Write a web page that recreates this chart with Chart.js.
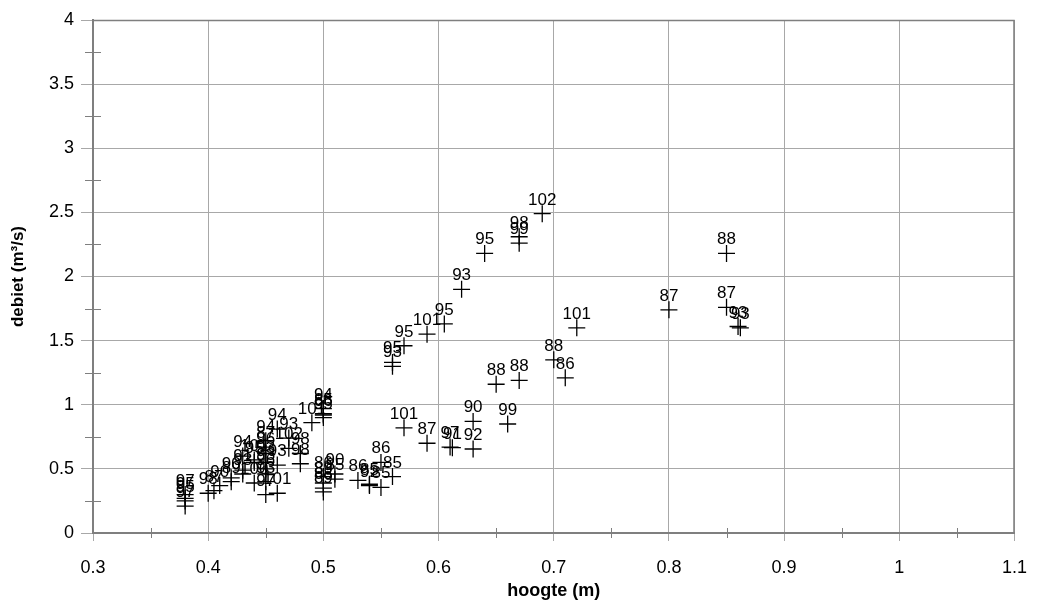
<!DOCTYPE html>
<html>
<head>
<meta charset="utf-8">
<script src="https://cdn.jsdelivr.net/npm/chart.js@4/dist/chart.umd.min.js"></script>
<style>
  html, body { margin: 0; padding: 0; background: #fff; }
  #wrap { width: 1043px; height: 606px; }
</style>
</head>
<body>
<div id="wrap"><canvas id="scatter"></canvas></div>
<script>
// hoogte (m), debiet (m3/s) and the year label of each measurement
const hoogte = [
  0.69, 0.67, 0.67, 0.64, 0.62, 0.605, 0.59, 0.57, 0.56, 0.56,
  0.85, 0.80, 0.85, 0.86, 0.862,
  0.72, 0.70, 0.71, 0.67, 0.65, 0.66, 0.63, 0.63, 0.61, 0.612, 0.59, 0.57,
  0.55, 0.56, 0.53, 0.54, 0.54, 0.55, 0.51, 0.51,
  0.50, 0.50, 0.50, 0.50, 0.50, 0.50, 0.50, 0.50, 0.49,
  0.38, 0.38, 0.38, 0.38, 0.40, 0.405, 0.41, 0.42, 0.42, 0.43, 0.43,
  0.43, 0.44, 0.44, 0.44, 0.45, 0.45, 0.45, 0.45, 0.45, 0.45, 0.45, 0.45,
  0.46, 0.46, 0.46, 0.47, 0.47, 0.48, 0.48
];
const debiet = [
  2.49, 2.31, 2.26, 2.18, 1.90, 1.63, 1.55, 1.46, 1.33, 1.30,
  2.18, 1.74, 1.76, 1.61, 1.60,
  1.60, 1.35, 1.21, 1.19, 1.16, 0.85, 0.87, 0.655, 0.67, 0.665, 0.70, 0.82,
  0.55, 0.44, 0.41, 0.38, 0.37, 0.355, 0.46, 0.42,
  0.97, 0.93, 0.92, 0.90, 0.44, 0.39, 0.35, 0.32, 0.86,
  0.30, 0.27, 0.25, 0.21, 0.31, 0.33, 0.37, 0.40, 0.43, 0.46, 0.49,
  0.60, 0.57, 0.55, 0.39, 0.72, 0.67, 0.62, 0.55, 0.50, 0.46, 0.40, 0.30,
  0.81, 0.53, 0.31, 0.74, 0.66, 0.62, 0.54
];
const jaar = [
  '102', '98', '99', '95', '93', '95', '101', '95', '95', '93',
  '88', '87', '87', '93', '93',
  '101', '88', '86', '88', '88', '99', '90', '92', '97', '91', '87', '101',
  '86', '85', '86', '85', '92', '85', '90', '85',
  '94', '85', '86', '95', '86', '89', '88', '89', '101',
  '97', '95', '95', '97', '98', '87', '90', '89', '90', '93', '91',
  '94', '101', '95', '100', '94', '87', '96', '93', '93', '96', '93', '97',
  '94', '93', '101', '93', '102', '98', '98'
];

const xTicksMinor = [0.35, 0.45, 0.55, 0.65, 0.75, 0.85, 0.95, 1.05];
const yTicksMinor = [0.25, 0.75, 1.25, 1.75, 2.25, 2.75, 3.25, 3.75];

const punten = hoogte.map((h, i) => ({ x: h, y: debiet[i] }));

const gridKleur = '#a8a8a8';
const asKleur = '#7f7f7f';

// year labels above every cross
const jaarLabels = {
  id: 'jaarLabels',
  afterDatasetsDraw(chart) {
    const ctx = chart.ctx;
    const meta = chart.getDatasetMeta(0);
    ctx.save();
    ctx.font = '17px "Liberation Sans", Arial, sans-serif';
    ctx.fillStyle = '#000';
    ctx.textAlign = 'center';
    ctx.textBaseline = 'alphabetic';
    meta.data.forEach((pt, i) => {
      ctx.fillText(jaar[i], pt.x, pt.y - 9);
    });
    ctx.restore();
  }
};

// minor tick marks crossing the axes, plus top/right frame
const kader = {
  id: 'kader',
  afterDraw(chart) {
    const { ctx, chartArea: { left, right, top, bottom }, scales: { x, y } } = chart;
    ctx.save();
    ctx.strokeStyle = asKleur;
    ctx.lineWidth = 1;
    ctx.beginPath();
    xTicksMinor.forEach(v => {
      const px = Math.round(x.getPixelForValue(v)) + 0.5;
      ctx.moveTo(px, bottom - 5);
      ctx.lineTo(px, bottom + 5);
    });
    yTicksMinor.forEach(v => {
      const py = Math.round(y.getPixelForValue(v)) + 0.5;
      ctx.moveTo(left - 8, py);
      ctx.lineTo(left + 8, py);
    });
    ctx.stroke();
    ctx.lineWidth = 1.5;
    ctx.beginPath();
    ctx.moveTo(left, top + 0.5);
    ctx.lineTo(right - 0.5, top + 0.5);
    ctx.lineTo(right - 0.5, bottom);
    ctx.stroke();
    ctx.restore();
  }
};

const config = {
  type: 'scatter',
  data: {
    datasets: [{
      data: punten,
      pointStyle: 'cross',
      pointRadius: 8.5,
      pointHoverRadius: 8.5,
      borderColor: '#000',
      borderWidth: 1.3,
      backgroundColor: '#000'
    }]
  },
  options: {
    responsive: true,
    maintainAspectRatio: false,
    animation: false,
    layout: { padding: { top: 20, right: 2, left: 0, bottom: 0 } },
    plugins: {
      legend: { display: false },
      tooltip: { enabled: false }
    },
    scales: {
      x: {
        type: 'linear',
        min: 0.3,
        max: 1.1,
        afterFit(scale) { scale.height = 73; },
        ticks: {
          stepSize: 0.1,
          color: '#000',
          padding: 16,
          font: { size: 18, family: '"Liberation Sans", Arial, sans-serif' },
          callback: v => String(+v.toFixed(2))
        },
        grid: { color: gridKleur, tickColor: gridKleur, tickLength: 8 },
        border: { color: asKleur, width: 2 },
        title: {
          display: true,
          text: 'hoogte (m)',
          color: '#000',
          padding: { top: 4, bottom: 4 },
          font: { size: 18, weight: 'bold', family: '"Liberation Sans", Arial, sans-serif' }
        }
      },
      y: {
        min: 0,
        max: 4,
        afterFit(scale) { scale.width = 93; },
        ticks: {
          stepSize: 0.5,
          color: '#000',
          padding: 7,
          font: { size: 18, family: '"Liberation Sans", Arial, sans-serif' },
          callback: v => String(+v.toFixed(2))
        },
        grid: { color: gridKleur, tickColor: gridKleur, tickLength: 12 },
        border: { color: asKleur, width: 2 },
        title: {
          display: true,
          text: 'debiet (m³/s)',
          color: '#000',
          padding: { top: 8, bottom: 0 },
          font: { size: 17, weight: 'bold', family: '"Liberation Sans", Arial, sans-serif' }
        }
      }
    }
  },
  plugins: [jaarLabels, kader]
};

const grafiek = new Chart(document.getElementById('scatter'), config);
</script>
</body>
</html>
